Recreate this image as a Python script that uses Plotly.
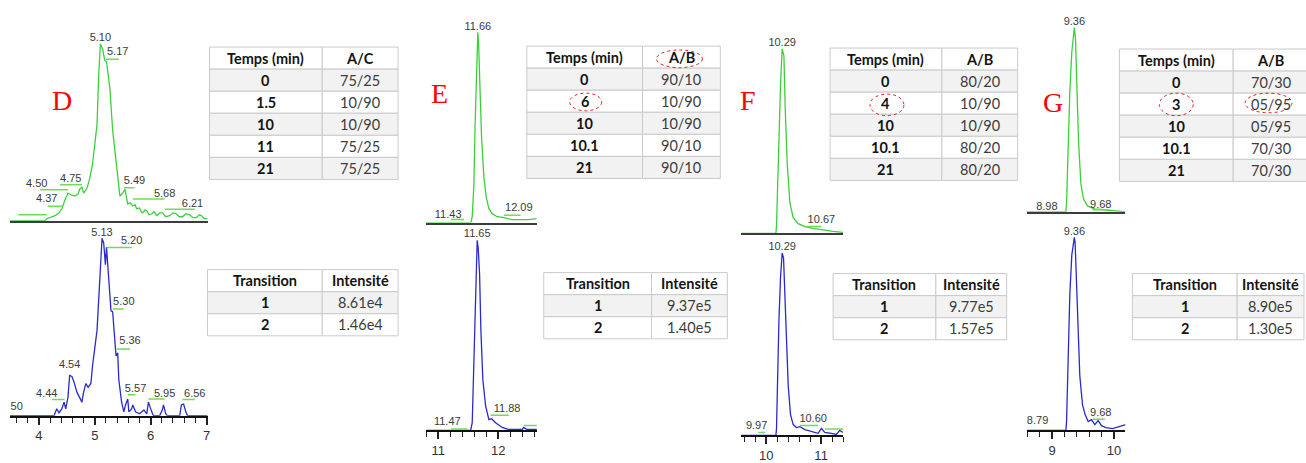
import plotly.graph_objects as go

W, H = 1306, 463

# ---- chromatograms: retention time (min) / relative intensity (% of apex) ----
d_top_t = [3.48, 4.12, 4.14, 4.20, 4.29, 4.36, 4.41, 4.46, 4.52, 4.59, 4.64, 4.70, 4.73, 4.77, 4.80,
           4.86, 4.91, 4.96, 5.04, 5.07, 5.10, 5.14, 5.18, 5.21, 5.27, 5.32, 5.39, 5.45, 5.50, 5.54,
           5.59, 5.63, 5.68, 5.72, 5.75, 5.80, 5.84, 5.86, 5.90, 5.93, 5.97, 6.02, 6.06, 6.11, 6.16,
           6.21, 6.27, 6.34, 6.40, 6.46, 6.51, 6.57, 6.63, 6.70, 6.76, 6.82, 6.87, 6.91, 6.96, 7.02]
d_top_i = [0, 0, 1.1, 1.7, 2.8, 4.4, 6.7, 11.1, 15.6, 14.4, 13.9, 15.0, 17.8, 18.9, 15.6,
           18.3, 23.9, 32.2, 54.4, 82.2, 100, 97.2, 90.6, 90.0, 75.0, 51.1, 28.9, 13.9, 15.6, 17.8,
           9.4, 10.2, 8.3, 9.0, 6.7, 7.2, 4.6, 4.4, 6.1, 5.6, 3.3, 3.9, 5.0, 2.8, 4.4,
           4.4, 2.2, 2.8, 4.4, 3.9, 2.2, 2.2, 3.9, 3.3, 1.7, 1.7, 3.3, 2.8, 1.1, 1.1]
d_bot_t = [3.48, 4.27, 4.32, 4.36, 4.41, 4.45, 4.48, 4.52, 4.55, 4.59, 4.63, 4.68, 4.77, 4.80,
           4.84, 4.88, 4.93, 4.96, 5.04, 5.09, 5.13, 5.16, 5.19, 5.21, 5.25, 5.29, 5.32, 5.36,
           5.38, 5.41, 5.43, 5.48, 5.52, 5.55, 5.59, 5.61, 5.66, 5.68, 5.73, 5.80, 5.88, 5.93,
           5.96, 6.02, 6.05, 6.16, 6.21, 6.23, 6.27, 6.30, 6.52, 6.55, 6.59, 6.63, 6.66, 7.02]
d_bot_i = [0, 0, 3.9, 1.7, 3.9, 7.7, 3.9, 10.5, 22.7, 22.1, 18.8, 13.3, 7.7, 13.3,
           18.2, 16.0, 18.2, 28.2, 48.1, 81.2, 100, 97.2, 85.1, 95.0, 75.7, 59.1, 58.6, 39.2,
           33.7, 35.4, 20.4, 7.7, 2.2, 6.1, 9.4, 2.2, 3.9, 6.1, 2.2, 1.1, 3.3, 1.1,
           7.7, 2.2, 0, 0, 3.3, 6.1, 1.1, 0, 0, 6.1, 6.6, 2.2, 0, 0]

e_top_t = [10.80, 11.545, 11.567, 11.595, 11.612, 11.633, 11.648, 11.66, 11.672, 11.695, 11.723,
           11.762, 11.80, 11.845, 11.90, 11.983, 12.095, 12.228, 12.395, 12.512, 12.645]
e_top_i = [0, 0, 3.1, 20.2, 48.2, 77.2, 97, 100, 95, 74.1, 44.6,
           23.8, 13.5, 7.3, 4.7, 3.1, 2.6, 1.6, 1.6, 1.6, 2.1]
e_bot_t = [10.80, 11.54, 11.567, 11.595, 11.612, 11.633, 11.65, 11.667, 11.69, 11.712, 11.745,
           11.79, 11.845, 11.89, 11.957, 12.067, 12.178, 12.40, 12.428, 12.483, 12.65]
e_bot_i = [0, 0, 4.1, 35.2, 64.8, 87.0, 100, 95.9, 81.9, 52.3, 26.4,
           13.0, 5.7, 6.2, 4.1, 1.6, 0.5, 0.5, 1.6, 0.5, 0.5]

f_top_t = [9.545, 10.176, 10.187, 10.205, 10.231, 10.26, 10.29, 10.322, 10.345, 10.382, 10.431,
           10.491, 10.582, 10.704, 10.855, 10.976, 11.096, 11.218, 11.40]
f_top_i = [0, 0, 4.3, 23.9, 52.1, 80.3, 100, 96.3, 68.1, 37.8, 16.5,
           8.5, 5.3, 3.7, 2.7, 2.1, 1.6, 1.1, 0.5]
f_bot_t = [9.545, 10.176, 10.187, 10.205, 10.231, 10.26, 10.29, 10.315, 10.34, 10.369, 10.40,
           10.442, 10.491, 10.551, 10.613, 10.704, 10.824, 10.945, 11.005, 11.067, 11.187,
           11.278, 11.34, 11.40]
f_bot_i = [0, 0, 3.8, 32.8, 62.9, 86.6, 100, 97.3, 77.4, 50.5, 27.4,
           11.3, 5.9, 4.3, 4.8, 3.2, 2.2, 1.1, 3.8, 1.6, 1.1,
           0.5, 2.7, 1.6]

g_top_t = [8.589, 9.223, 9.234, 9.261, 9.287, 9.319, 9.36, 9.379, 9.40, 9.427, 9.465,
           9.508, 9.573, 9.681, 9.842, 10.003, 10.19]
g_top_i = [0, 0, 4.8, 35.1, 65.4, 86.7, 100, 93.6, 67.0, 38.8, 15.4,
           6.9, 3.2, 1.6, 1.1, 0.5, 0]
g_bot_t = [8.589, 9.223, 9.234, 9.261, 9.287, 9.319, 9.36, 9.372, 9.39, 9.416, 9.448,
           9.492, 9.535, 9.584, 9.637, 9.69, 9.745, 9.798, 9.868, 9.976, 10.084, 10.19]
g_bot_i = [0, 0, 4.6, 36.5, 70.6, 90.9, 100, 97.5, 79.2, 53.8, 28.4,
           13.2, 8.1, 4.6, 5.6, 3.0, 5.1, 2.5, 1.5, 1.0, 2.0, 3.0]

# ---- peak labels: (text, text t, text I, tag t0, tag t1, tag I) ----
d_top_apex = "5.10"
d_top_labels = [("5.17", 5.41, 95.6, 5.20, 5.43, 91.4), ("4.50", 3.96, 20.6, 4.02, 4.52, 17.5),
                ("4.75", 4.57, 23.3, 4.38, 4.77, 20.3), ("4.37", 4.14, 12.2, 4.16, 4.41, 8.1),
                ("4.15", 3.39, 7.2, 3.63, 4.14, 3.3), ("5.49", 5.71, 22.2, 5.52, 5.71, 18.6),
                ("5.68", 6.25, 15.0, 5.68, 6.25, 12.2), ("6.21", 6.75, 9.4, 6.25, 6.79, 6.4)]
d_bot_apex = "5.13"
d_bot_labels = [("5.20", 5.66, 98.3, 5.21, 5.66, 94.8), ("5.30", 5.52, 64.1, 5.32, 5.52, 60.2),
                ("5.36", 5.63, 42.0, 5.39, 5.63, 37.6), ("4.54", 4.55, 28.2, None, None, None),
                ("4.44", 4.14, 12.2, 4.23, 4.46, 9.1), ("4.50", 3.52, 5.0, None, None, None),
                ("5.57", 5.73, 14.9, 5.59, 5.73, 11.9), ("5.95", 6.25, 12.2, 5.96, 6.25, 9.4),
                ("6.56", 6.79, 12.2, 6.57, 6.79, 9.1)]
e_top_apex = "11.66"
e_top_labels = [("11.43", 11.165, 4.1, 11.21, 11.43, 1.6), ("12.09", 12.345, 7.3, 12.095, 12.373, 3.9)]
e_bot_apex = "11.65"
e_bot_labels = [("11.47", 11.15, 4.1, 11.21, 11.483, 0.8), ("11.88", 12.15, 10.9, 11.873, 12.178, 8.0),
                ("12.47", 12.86, 5.7, 12.43, 12.65, 2.6)]
f_top_apex = "10.29"
f_top_labels = [("10.67", 11.005, 6.9, 10.704, 11.005, 3.7)]
f_bot_apex = "10.29"
f_bot_labels = [("9.97", 9.824, 4.8, 9.855, 9.976, 1.6), ("10.60", 10.855, 8.6, 10.613, 10.945, 5.4),
                ("11.07", 11.55, 7.5, 11.067, 11.40, 3.5)]
g_top_apex = "9.36"
g_top_labels = [("8.98", 8.916, 2.7, None, None, None), ("9.68", 9.787, 3.7, 9.653, 9.895, 1.1)]
g_bot_apex = "9.36"
g_bot_labels = [("8.79", 8.766, 4.6, None, None, None), ("9.68", 9.787, 9.1, 9.653, 9.852, 5.8)]

# ---- gradient / intensity tables ----
temps_d = ["0", "1.5", "10", "11", "21"]
ratio_d = ["75/25", "10/90", "10/90", "75/25", "75/25"]
temps_e = ["0", "6", "10", "10.1", "21"]
ratio_e = ["90/10", "10/90", "10/90", "90/10", "90/10"]
temps_f = ["0", "4", "10", "10.1", "21"]
ratio_f = ["80/20", "10/90", "10/90", "80/20", "80/20"]
temps_g = ["0", "3", "10", "10.1", "21"]
ratio_g = ["70/30", "05/95", "05/95", "70/30", "70/30"]
transitions = ["1", "2"]
intens_d = ["8.61e4", "1.46e4"]
intens_e = ["9.37e5", "1.40e5"]
intens_f = ["9.77e5", "1.57e5"]
intens_g = ["8.90e5", "1.30e5"]

GREEN = "#3ccf3c"
TAG_GREEN = "#6fdc55"
BLUE = "#2a2acb"
LABEL_FONT = dict(family="Liberation Sans, Arial", size=11, color="#3a3a3a")
TABLE_FONT = "Lato, Open Sans"


def fx(x):
    return x / W


def fy(y):
    return 1 - y / H


# pixel layout of each panel (x span, baselines, apex heights, letter, tables)
panels = [
    dict(letter="D", x0=10, x1=208, t0=3.482, t1=7.018, top_base=225, top_peak=45, bot_base=424, bot_peak=243,
         top=(d_top_t, d_top_i, d_top_apex, d_top_labels), bot=(d_bot_t, d_bot_i, d_bot_apex, d_bot_labels),
         letter_xy=(62, 103),
         grad=("A/C", temps_d, ratio_d, (210, 323, 399, 48)),
         inten=(intens_d, (208, 323, 399, 275))),
    dict(letter="E", x0=427, x1=538, t0=10.795, t1=12.645, top_base=227, top_peak=33, bot_base=439, bot_peak=245,
         top=(e_top_t, e_top_i, e_top_apex, e_top_labels), bot=(e_bot_t, e_bot_i, e_bot_apex, e_bot_labels),
         letter_xy=(441, 95),
         grad=("A/B", temps_e, ratio_e, (528, 644, 722, 47)),
         inten=(intens_e, (545, 653, 729, 278))),
    dict(letter="F", x0=743, x1=845, t0=9.545, t1=11.4, top_base=238, top_peak=50, bot_base=444, bot_peak=258,
         top=(f_top_t, f_top_i, f_top_apex, f_top_labels), bot=(f_bot_t, f_bot_i, f_bot_apex, f_bot_labels),
         letter_xy=(750, 103),
         grad=("A/B", temps_f, ratio_f, (832, 944, 1020, 49)),
         inten=(intens_f, (835, 938, 1009, 279))),
    dict(letter="G", x0=1029, x1=1128, t0=8.589, t1=10.185, top_base=216, top_peak=28, bot_base=439, bot_peak=242,
         top=(g_top_t, g_top_i, g_top_apex, g_top_labels), bot=(g_bot_t, g_bot_i, g_bot_apex, g_bot_labels),
         letter_xy=(1055, 105),
         grad=("A/B", temps_g, ratio_g, (1122, 1236, 1311, 50)),
         inten=(intens_g, (1135, 1240, 1307, 279))),
]

# dotted red circles around the changed gradient entries (px boxes)
highlights = [(658, 704, 51, 69), (571, 603, 95, 113), (872, 906, 96, 118),
              (1162, 1196, 95, 118), (1248, 1295, 95, 115)]

shapes, annotations = [], []


def add_table(header, col1, col2, box, row_h=22.5):
    x0, xs, x1, y0 = box
    rows = [header] + list(zip(col1, col2))
    for r, (a, b) in enumerate(rows):
        top, bot = y0 + r * row_h, y0 + (r + 1) * row_h
        fill = "#f2f2f2" if r % 2 == 1 else "white"
        for (c0, c1), txt in (((x0, xs), a), ((xs, x1), b)):
            shapes.append(dict(type="rect", xref="paper", yref="paper", x0=fx(c0), x1=fx(c1),
                               y0=fy(bot), y1=fy(top), fillcolor=fill,
                               line=dict(color="#cacaca", width=1), layer="below"))
            bold = r == 0 or c0 == x0
            annotations.append(dict(text=f"<b>{txt}</b>" if bold else txt, x=fx((c0 + c1) / 2),
                                    y=fy((top + bot) / 2), xref="paper", yref="paper", showarrow=False,
                                    xanchor="center", yanchor="middle",
                                    font=dict(family=TABLE_FONT, size=14.5,
                                              color="#141414" if bold else "#3c3c3c")))


fig = go.Figure()
axes = {}
for k, p in enumerate(panels):
    for j, part in enumerate(("top", "bot")):
        n = 2 * k + j + 1
        sfx = "" if n == 1 else str(n)
        base = p[part + "_base"]
        ceil = 0 if part == "top" else p["top_base"] + 3
        ymax = 100 * (base - ceil) / (base - p[part + "_peak"])
        xa = dict(domain=[fx(p["x0"]), fx(p["x1"])], range=[p["t0"], p["t1"]], anchor="y" + sfx,
                  showgrid=False, zeroline=False, fixedrange=True, showline=True)
        if part == "top":
            xa.update(linecolor="#3c3c3c", linewidth=1.5, showticklabels=False, ticks="")
        else:
            xa.update(linecolor="#111111", linewidth=2, ticks="outside", ticklen=7, tickwidth=1.5,
                      tickcolor="#222222", tick0=0, dtick=1,
                      tickfont=dict(family="Liberation Sans, Arial", size=13, color="#333333"),
                      minor=dict(ticks="outside", ticklen=5, tickwidth=1.2, tickcolor="#222222",
                                 tick0=0, dtick=0.2))
        axes["xaxis" + sfx] = xa
        axes["yaxis" + sfx] = dict(domain=[fy(base), fy(ceil)], range=[0, ymax],
                                   visible=False, fixedrange=True, anchor="x" + sfx)

        t, inten, apex, labels = p[part]
        color = GREEN if part == "top" else BLUE
        fig.add_trace(go.Scatter(x=t, y=inten, mode="lines", line=dict(color=color, width=1.3),
                                 xaxis="x" + sfx, yaxis="y" + sfx, hoverinfo="skip"))
        # green tag lines under the peak labels
        lx, ly = [], []
        for lab in labels:
            if lab[3] is not None:
                lx += [lab[3], lab[4], None]
                ly += [lab[5], lab[5], None]
        if lx:
            fig.add_trace(go.Scatter(x=lx, y=ly, mode="lines", line=dict(color=TAG_GREEN, width=1.5),
                                     xaxis="x" + sfx, yaxis="y" + sfx, hoverinfo="skip"))
        fig.add_trace(go.Scatter(x=[lab[1] for lab in labels], y=[lab[2] for lab in labels],
                                 text=[lab[0] for lab in labels], mode="text", textposition="middle center",
                                 textfont=LABEL_FONT, cliponaxis=(part == "bot"),
                                 xaxis="x" + sfx, yaxis="y" + sfx, hoverinfo="skip"))
        top_i = max(inten)
        fig.add_trace(go.Scatter(x=[t[inten.index(top_i)]], y=[top_i], text=[apex], mode="text",
                                 textposition="top center", textfont=LABEL_FONT, cliponaxis=False,
                                 xaxis="x" + sfx, yaxis="y" + sfx, hoverinfo="skip"))

    head, temps, ratio, box = p["grad"]
    add_table(["Temps (min)", head], temps, ratio, box)
    intens, box = p["inten"]
    add_table(["Transition", "Intensité"], transitions, intens, box)

    lx_, ly_ = p["letter_xy"]
    annotations.append(dict(text=p["letter"], x=fx(lx_), y=fy(ly_), xref="paper", yref="paper",
                            showarrow=False, xanchor="center", yanchor="middle",
                            font=dict(family="Liberation Serif, Times New Roman", size=28, color="#ff0000")))

for a, b, c, d in highlights:
    shapes.append(dict(type="circle", xref="paper", yref="paper", x0=fx(a), x1=fx(b), y0=fy(d), y1=fy(c),
                       line=dict(color="#e02020", width=1, dash="dot"), layer="above"))

fig.update_layout(width=W, height=H, margin=dict(l=0, r=0, t=0, b=0), showlegend=False,
                  paper_bgcolor="white", plot_bgcolor="white",
                  annotations=annotations, shapes=shapes, **axes)

# drop the default page margin so the figure fills the window exactly
fig.write_html("out.html", config={"displayModeBar": False},
               post_script="document.body.style.margin='0';document.body.style.overflow='hidden';")
